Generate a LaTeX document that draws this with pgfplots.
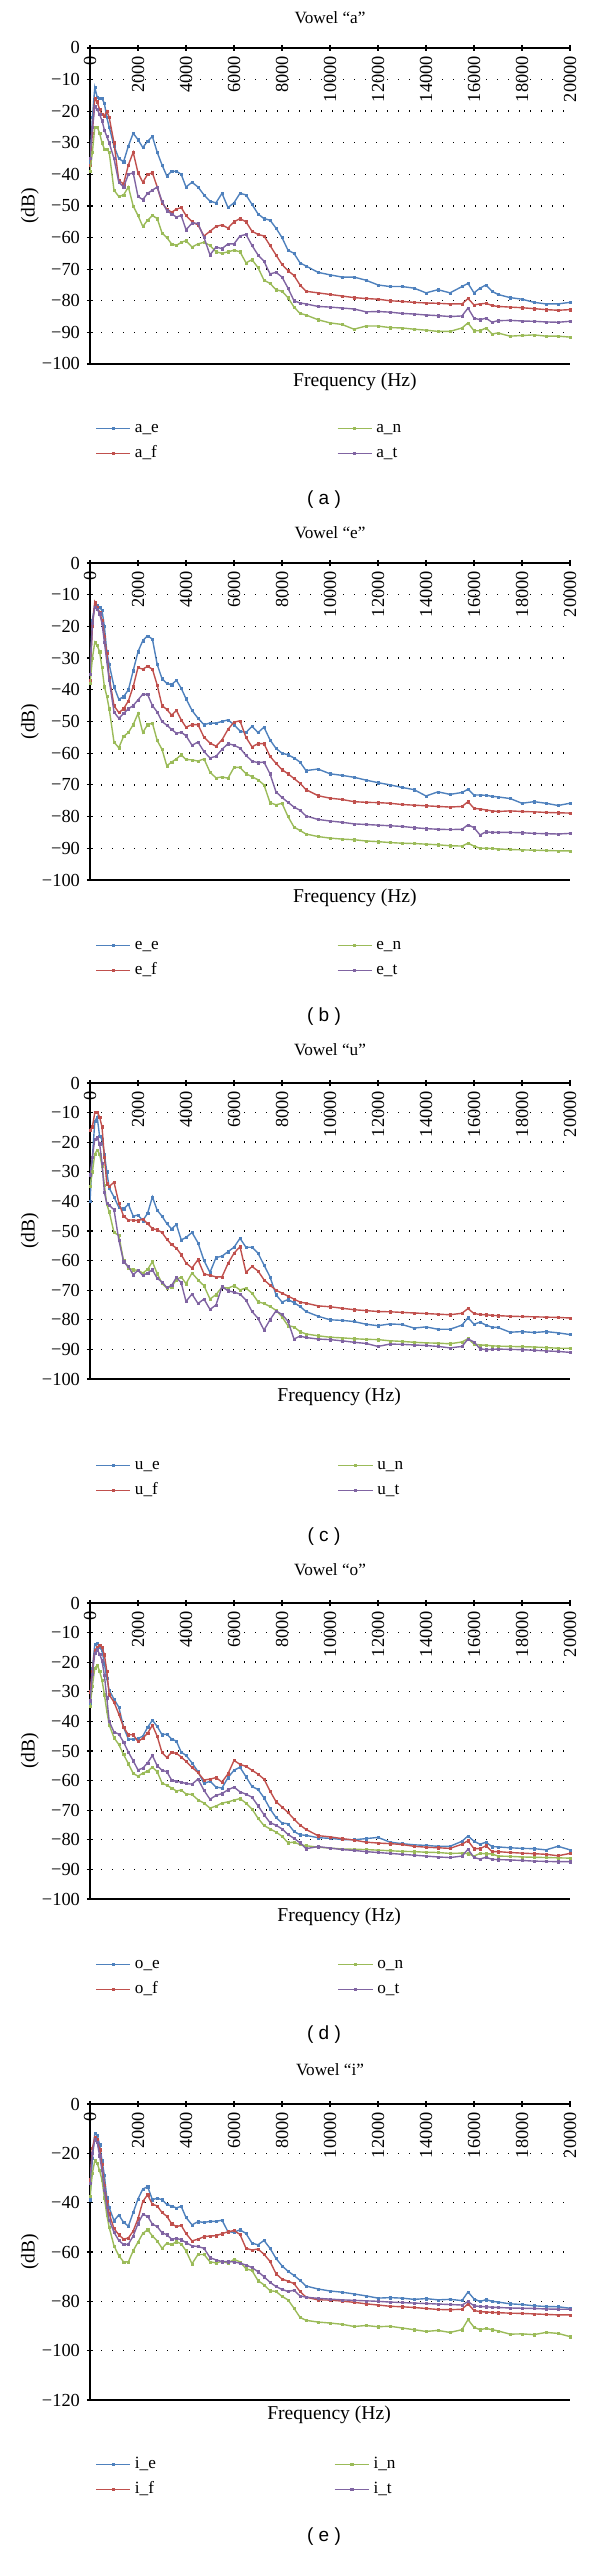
\documentclass[border=0pt]{standalone}
\usepackage{fontspec}
\setmainfont{Liberation Serif}
\newfontfamily\capfont{Liberation Sans}
\usepackage{pgfplots}
\usepackage{pgfplotstable}
\pgfplotsset{compat=1.18}
\definecolor{cE}{HTML}{4F81BD}
\definecolor{cF}{HTML}{C0504D}
\definecolor{cN}{HTML}{9BBB59}
\definecolor{cT}{HTML}{8064A2}

\pgfplotstableread{
hz E F N T
0 -36 -37 -39 -35
100 -22 -27 -33 -25
200 -12.5 -16 -25 -18.5
300 -15.5 -17 -25 -19.5
400 -16 -19.5 -27 -21
500 -16 -21 -30 -23
600 -17.5 -21.5 -32 -26
700 -22 -20 -32 -28
800 -25 -22 -33 -30
1000 -31 -30 -45 -35
1200 -35 -42 -47 -42.5
1400 -36 -43 -46.5 -44
1600 -31 -37 -44 -40
1800 -27 -33 -50 -39.5
2000 -29 -39.5 -53 -47
2200 -31.5 -42.5 -56.5 -48
2400 -29.5 -40 -54.5 -46
2600 -28 -39.5 -53 -45
2800 -33 -44 -54 -44
3000 -37 -49 -58.5 -48.5
3200 -40.5 -51 -60 -51.5
3400 -39 -52 -62 -52.5
3600 -39 -51 -62.5 -53.5
3800 -40 -50.5 -61.5 -53
4000 -44 -53 -61 -57.5
4250 -42.5 -55 -63 -55.5
4500 -44 -56 -62 -55.5
4750 -46.5 -59.5 -61.5 -60
5000 -48.5 -58 -62.5 -65.5
5250 -49 -56.5 -64.5 -63
5500 -46 -56 -65 -63.5
5750 -50.5 -57 -64.5 -62
6000 -49 -55 -64 -62
6250 -46 -54 -64.5 -59.5
6500 -46.5 -55 -68 -59
6750 -49.5 -58 -67 -62.5
7000 -52.5 -59 -69.5 -65.5
7250 -54 -59.5 -73.5 -67.5
7500 -54.5 -62.5 -74.5 -71.5
7750 -57 -65.5 -76.5 -71
8000 -60 -68.5 -77 -72.5
8250 -64 -70.5 -79 -76
8500 -65 -72 -82 -80
8750 -68 -75 -84 -80.7
9000 -69 -77 -84.5 -81
9500 -71 -77.5 -86 -81.8
10000 -71.8 -78 -87 -82
10500 -72.5 -78.5 -87.5 -82.3
11000 -72.5 -79 -89 -82.6
11500 -73.5 -79.3 -88 -83.5
12000 -75 -79.5 -88 -83.4
12500 -75.5 -80 -88.5 -83.6
13000 -75.5 -80.2 -88.6 -84
13500 -76 -80.5 -89 -84.2
14000 -77.5 -80.7 -89.3 -84.5
14500 -76.5 -80.8 -89.7 -84.7
15000 -77.5 -81 -89.7 -85
15500 -75.5 -81 -88.6 -84.8
15750 -74.5 -79.3 -87 -82.3
16000 -77.5 -81.3 -89.5 -85.5
16250 -76 -81 -89.5 -86
16500 -75 -80.8 -88.6 -85.5
16750 -77 -81.5 -90.5 -86.8
17000 -78 -81.8 -90.2 -86.3
17500 -79 -82 -91.2 -86.2
18000 -79.5 -82.2 -91 -86.4
18500 -80.5 -82.5 -90.8 -86.5
19000 -81 -82.8 -91.2 -86.7
19500 -81 -83 -91.2 -86.8
20000 -80.5 -82.8 -91.5 -86.5
}\tabA

\pgfplotstableread{
hz E F N T
0 -35 -37 -38 -35
100 -18 -20 -30 -19
200 -13 -12.3 -25 -14
300 -13.5 -14 -26 -14.5
400 -14 -15.5 -28 -16
500 -15 -18 -33 -19
600 -20 -23 -39 -25
700 -28 -28.5 -42 -31
800 -32 -36 -46 -37
1000 -39 -45 -56.5 -47
1200 -43 -47.2 -58.3 -49
1400 -42.2 -46 -54.7 -47.5
1600 -40 -43.5 -53.5 -46
1800 -34 -39 -51 -45
2000 -28 -33 -47.5 -43.2
2200 -24.5 -33.5 -53.5 -41.4
2400 -23 -32.6 -51 -41.5
2600 -24 -33.5 -50.5 -45
2800 -32 -38.5 -56 -47
3000 -36.5 -45 -58.8 -50
3200 -38 -46.2 -64 -51.2
3400 -38.4 -48 -62.8 -52.5
3600 -37 -46.5 -61.8 -53.7
3800 -39.5 -49.5 -60.5 -53.4
4000 -42.8 -51.8 -62 -54.5
4250 -46.5 -51 -62.1 -57.5
4500 -49 -51 -62.5 -56.5
4750 -51 -55 -61.8 -59.5
5000 -50.5 -56.8 -66 -61.5
5250 -50.5 -57.8 -67.8 -61
5500 -50 -55.8 -67.5 -58.8
5750 -49.5 -52.5 -67.9 -57
6000 -51 -50.2 -64.5 -57.5
6250 -53 -49.8 -64.5 -58.4
6500 -53.5 -55 -66.5 -60.7
6750 -51.5 -58 -67.4 -62.5
7000 -53.5 -57 -68.4 -63
7250 -51.8 -57 -70 -62.8
7500 -55.8 -61 -75.6 -66.5
7750 -58.5 -63.2 -76.3 -72.2
8000 -60 -65.2 -75.8 -74
8250 -60.5 -66.5 -80 -75.5
8500 -61.5 -68 -83.3 -77
8750 -62.8 -69.5 -84.4 -78
9000 -65.5 -71.5 -85.5 -79.8
9500 -65 -73.4 -86.3 -80.9
10000 -66.5 -74.2 -86.8 -81.4
10500 -67 -74.6 -87.1 -81.8
11000 -67.6 -75.3 -87.3 -82.3
11500 -68.5 -75.5 -87.7 -82.5
12000 -69.3 -75.6 -87.9 -82.7
12500 -70 -75.8 -88.2 -82.9
13000 -70.8 -76.2 -88.4 -83.1
13500 -71.5 -76.4 -88.5 -83.5
14000 -73.5 -76.6 -88.7 -83.8
14500 -72.2 -76.8 -88.9 -84
15000 -73 -77 -89.2 -84.1
15500 -72.4 -76.8 -89.3 -84
15750 -71.4 -75.3 -88.4 -82.6
16000 -73.2 -77.4 -89.3 -83.5
16250 -73.2 -77.6 -90 -85.8
16500 -73.3 -77.9 -90 -84.8
16750 -73.6 -78.2 -90.1 -85
17000 -73.8 -78.4 -90.2 -85
17500 -74.3 -78.2 -90.4 -85
18000 -75.8 -78.4 -90.5 -85.1
18500 -75.3 -78.5 -90.6 -85.3
19000 -75.8 -78.7 -90.7 -85.4
19500 -76.5 -78.8 -90.8 -85.5
20000 -75.8 -78.9 -90.8 -85.3
}\tabB

\pgfplotstableread{
hz E F N T
0 -40 -16 -35 -31
100 -25 -14.8 -30 -25
200 -13 -10 -24 -19
300 -11.5 -9.8 -22.7 -18.5
400 -18 -11.5 -24 -20.5
500 -19 -14.8 -28 -27
600 -24 -25 -34.5 -37
700 -30 -34 -41 -40.7
800 -35.5 -35 -43.5 -41.3
1000 -38.5 -33.5 -50.5 -42.8
1200 -42 -40.5 -51.5 -53
1400 -42.5 -45 -60 -60.4
1600 -41 -46.3 -62.5 -62
1800 -45 -46.3 -63.1 -64.8
2000 -44.6 -46.5 -63.3 -63.3
2200 -46.5 -46 -64.2 -65
2400 -44 -47.5 -63 -64.2
2600 -38.5 -49.2 -60.4 -63.1
2800 -43 -49.6 -64.4 -66
3000 -45 -50.5 -67.7 -67.2
3200 -47.5 -52.8 -69.3 -69.1
3400 -49.3 -54.6 -68.8 -68.4
3600 -47.8 -55.8 -66.5 -65.7
3800 -53 -58 -65.5 -67.5
4000 -52.2 -60.8 -67.8 -73.8
4250 -50.5 -62.5 -64.2 -71.3
4500 -54 -59.7 -66.5 -74.5
4750 -60 -64.5 -68.5 -73
5000 -64 -65 -73 -76.5
5250 -59 -65.5 -71.5 -75
5500 -58.5 -65.5 -69 -68.8
5750 -57 -61 -69.3 -70.2
6000 -55.5 -57.5 -68.5 -70.7
6250 -52.5 -55.3 -69.9 -71.3
6500 -55.5 -64 -69.3 -73.4
6750 -55.5 -62 -71 -77.2
7000 -57.5 -63.5 -73.9 -79.5
7250 -61.5 -66.5 -74.5 -83.5
7500 -65.5 -68.3 -75.5 -80
7750 -71.5 -70 -76.8 -77
8000 -74 -71 -79 -78.2
8250 -73.2 -72 -82 -80.5
8500 -74.2 -73 -82.4 -86.5
8750 -75.5 -74 -84 -85.5
9000 -77.2 -74.4 -84.8 -86
9500 -78.8 -75.3 -85.4 -86.5
10000 -80 -75.6 -85.9 -86.7
10500 -80.2 -76.1 -86.1 -87.1
11000 -80.6 -76.6 -86.4 -87.6
11500 -81.5 -76.9 -86.6 -88
12000 -82 -77.2 -86.7 -89
12500 -81.4 -77.3 -87.1 -88.2
13000 -81.6 -77.5 -87.3 -88.3
13500 -82.8 -77.7 -87.6 -88.5
14000 -82.4 -77.9 -87.8 -88.7
14500 -83.2 -78.1 -87.9 -89
15000 -83.2 -78.3 -88.1 -89.5
15500 -81.8 -77.8 -87.5 -89
15750 -79.3 -76.2 -86.4 -86.5
16000 -81.5 -77.9 -88.2 -87.5
16250 -80.8 -78.2 -88.5 -89.8
16500 -81.8 -78.3 -88.6 -90.1
16750 -82.5 -78.5 -88.8 -90
17000 -82.6 -78.6 -88.9 -89.9
17500 -84.2 -78.8 -89 -90
18000 -84 -78.9 -89.1 -90.1
18500 -84.3 -79 -89.2 -90.3
19000 -84 -79.1 -89.4 -90.5
19500 -84.4 -79.2 -89.6 -90.7
20000 -85 -79.4 -89.6 -91
}\tabC

\pgfplotstableread{
hz E F N T
0 -34 -30 -35 -33
100 -22 -23 -28 -24
200 -14 -16 -22 -17
300 -13.5 -15 -21 -15.8
400 -15 -14.2 -23 -17.2
500 -16 -15 -26 -19.5
600 -20.5 -17.5 -31 -24.5
700 -25.5 -23 -36.5 -32
800 -29.5 -31 -41.2 -40
1000 -32.5 -33.5 -45.5 -43.6
1200 -35.2 -37.5 -47.8 -44.3
1400 -42 -42 -51.2 -47
1600 -46 -44.5 -54.3 -50.4
1800 -46 -44.5 -57.6 -53.3
2000 -45.8 -46.8 -58.5 -56.4
2200 -45 -45.7 -57.5 -55.8
2400 -42 -44 -56.8 -54
2600 -39.6 -41.3 -55.5 -51.5
2800 -41.7 -45 -57 -55
3000 -44.5 -50.5 -60.8 -56.5
3200 -44.3 -52.2 -61.6 -57
3400 -45.9 -50.5 -62.5 -59.8
3600 -46.7 -50.8 -63.5 -60.3
3800 -50.4 -52 -63.2 -60.5
4000 -51.5 -53.5 -64.5 -61
4250 -54 -55.5 -64.7 -61.2
4500 -57 -57.3 -66.5 -59.5
4750 -61 -59.8 -67.6 -63.3
5000 -60.2 -59.5 -69.3 -66.3
5250 -62.2 -59 -68.6 -65
5500 -62.5 -60.5 -67.6 -64.4
5750 -59 -57.7 -67.2 -63.1
6000 -56.5 -53.2 -66.6 -62.2
6250 -55.5 -54.5 -66.1 -63.8
6500 -58.7 -55.2 -67.6 -64.6
6750 -62 -56.5 -69.6 -65.6
7000 -63 -57.8 -72.7 -68.5
7250 -65.8 -59.5 -75.2 -71.5
7500 -69.5 -63.5 -76.3 -74.2
7750 -72.5 -67.1 -77.4 -75.1
8000 -74.3 -68.9 -78.8 -76.3
8250 -74.6 -70.8 -81 -78.2
8500 -77.2 -73 -80.8 -79.5
8750 -78.3 -75 -81.6 -81
9000 -78.5 -76.5 -82 -83
9500 -79.3 -78.6 -82.5 -82.3
10000 -79.5 -79 -82.8 -82.8
10500 -79.9 -79.6 -83.1 -83.3
11000 -80 -80.1 -83.2 -83.6
11500 -79.6 -80.8 -83.3 -84
12000 -79.2 -81.1 -83.5 -84.3
12500 -80.8 -81.3 -83.7 -84.6
13000 -81.3 -81.6 -83.9 -84.9
13500 -81.7 -82.2 -84 -85.2
14000 -81.9 -82.5 -84.2 -85.5
14500 -82.2 -82.7 -84.3 -85.8
15000 -82.2 -82.9 -84.6 -86
15500 -80.5 -81.5 -84.5 -85.5
15750 -78.7 -80.3 -84.7 -83.2
16000 -80.5 -83 -85.5 -86
16250 -81.5 -83 -84.6 -86.5
16500 -80.8 -82 -84.7 -85.9
16750 -82.3 -84 -84.8 -86.6
17000 -82.4 -84 -85.5 -86.7
17500 -82.7 -84.3 -85.6 -86.8
18000 -82.9 -84.5 -85.8 -87
18500 -83 -84.7 -85.9 -87.2
19000 -83.4 -84.9 -86 -87.3
19500 -82.2 -85.4 -86.1 -87.4
20000 -83.4 -84.6 -86.2 -87.4
}\tabD

\pgfplotstableread{
hz E F N T
0 -38.8 -30.7 -37.5 -32
100 -22 -18 -28 -20
200 -12 -13.3 -23 -14.5
300 -12.5 -14.3 -24 -15.5
400 -16.5 -18.5 -27 -21
500 -23 -24.5 -30.7 -27
600 -29 -33 -38 -35
700 -38 -39.5 -45 -42
800 -42 -44.5 -50 -47
1000 -47.3 -50.5 -57.5 -52
1200 -45 -53 -61.5 -55.3
1400 -48 -54.8 -64 -57
1600 -49.5 -54.3 -64 -56.8
1800 -44 -51.5 -59.5 -53.5
2000 -38.5 -46.5 -56 -48.5
2200 -34.5 -39.5 -52.5 -44.8
2400 -33.5 -36.8 -51 -45.5
2600 -38.8 -40.7 -53.5 -48.7
2800 -38.2 -41.3 -55.5 -49.7
3000 -38.8 -44 -58.5 -52.2
3200 -40.7 -45.5 -56.5 -53
3400 -41.4 -48.5 -57 -54.8
3600 -42.1 -49.7 -55.8 -54.5
3800 -41.5 -49.2 -56.7 -55
4000 -46 -52.5 -59.5 -56.2
4250 -49 -55.5 -64.8 -57.5
4500 -47.7 -54.8 -61 -57.8
4750 -48 -53.8 -61 -58.5
5000 -47.6 -53.5 -64 -62.3
5250 -47.6 -53.4 -64.4 -63.2
5500 -47.1 -52.6 -63.8 -63.9
5750 -51.8 -51.8 -64.5 -63.9
6000 -52 -51.3 -63 -64
6250 -51 -52.9 -64 -64.5
6500 -52.5 -58.5 -66.8 -65.3
6750 -56.4 -59.2 -67.5 -66.3
7000 -57.1 -58.8 -71.6 -68
7250 -55.3 -60.9 -73.3 -70
7500 -58.5 -63.8 -75.7 -72.3
7750 -62.6 -68.8 -76 -74
8000 -65.6 -71 -78 -75.2
8250 -67.8 -71.8 -79.4 -76
8500 -69.5 -72.8 -82.8 -75.5
8750 -71.5 -76 -86.5 -77.8
9000 -73.8 -78.3 -87.7 -78.3
9500 -75 -79.4 -88.4 -78.8
10000 -75.8 -79.5 -88.8 -79.1
10500 -76.3 -79.9 -89.3 -79.4
11000 -77 -80.4 -90.2 -79.6
11500 -77.8 -81 -89.8 -79.8
12000 -78.7 -81.5 -90.3 -80
12500 -78.5 -82 -90.1 -80.3
13000 -78.7 -82.2 -90.8 -80.5
13500 -79.2 -82.5 -91.5 -80.7
14000 -78.9 -82.9 -92.2 -80.9
14500 -79.4 -83.3 -91.8 -81.1
15000 -79.2 -83.4 -92.6 -81.3
15500 -79.7 -83.2 -91.5 -81.5
15750 -76.2 -81 -87.4 -80.1
16000 -79 -83.7 -90.5 -81.8
16250 -80.1 -84.2 -91.5 -82.1
16500 -79.3 -84.3 -91 -82.2
16750 -80 -84.5 -91.5 -82.4
17000 -80.3 -84.6 -92 -82.5
17500 -81 -84.8 -93.3 -82.7
18000 -81.3 -84.9 -93.2 -82.8
18500 -81.8 -85.1 -93.5 -82.9
19000 -82.1 -85.3 -92.6 -83.1
19500 -82.2 -85.5 -93 -83.2
20000 -82.8 -85.5 -94.3 -83.2
}\tabE

\tikzset{capnode/.style={font=\capfont\fontsize{9.5}{10}\selectfont}}

\pgfplotsset{
  ser/.style={color=#1, line width=0.7pt, mark=square*, mark size=0.55pt,
    mark options={solid, line width=0.2pt}},
  vowel/.style={
    scale only axis, width=240pt,
    xmin=0, xmax=20000, enlargelimits=false, clip mode=individual,
    axis x line=box, axis y line=left,
    axis line style={-, line width=0.8pt, black},
    xtick={0,2000,...,20000},
    xticklabels={0,2000,4000,6000,8000,10000,12000,14000,16000,18000,20000},
    scaled x ticks=false,
    xtick pos=right, xticklabel pos=right,
    xticklabel style={yshift=-2pt, rotate=90, anchor=east, font=\fontsize{9.2}{9.2}\selectfont},
    yticklabel style={font=\fontsize{9.2}{9.2}\selectfont},
    tick style={black, line width=0.6pt}, major tick length=3pt, tick align=center,
    ytick pos=left,
    ymajorgrids, major grid style={black, line width=0.7pt, dash pattern=on 0.7pt off 4.8pt},
    title style={font=\fontsize{8.6}{9}\selectfont, at={(axis description cs:0.5,1)}, anchor=center, yshift=9pt},
    xlabel={Frequency (Hz)},
    ylabel={(dB)},
    ylabel style={font=\fontsize{9.8}{10}\selectfont, at={(axis description cs:-0.125,0.5)}, anchor=center},
    legend columns=2, transpose legend, legend cell align=left,
    legend style={draw=none, fill=none, inner sep=0pt, anchor=north west,
      font=\fontsize{8.6}{10}\selectfont,
      nodes={text height=6pt, text depth=1.5pt, inner sep=2pt},
      /tikz/every even column/.append style={column sep=87pt}, row sep=1pt},
  },
  yA/.style={ymin=-100, ymax=0, ytick={-100,-90,...,0},
    yticklabels={−100,−90,−80,−70,−60,−50,−40,−30,−20,−10,0}},
  yE/.style={ymin=-120, ymax=0, ytick={-120,-100,...,0},
    yticklabels={−120,−100,−80,−60,−40,−20,0}},
  xl/.style={xlabel style={font=\fontsize{9.8}{10}\selectfont, at={(axis description cs:#1,0)}, anchor=center, yshift=-9pt}},
}

\begin{document}
\begin{tikzpicture}
\path[use as bounding box] (0pt,0pt) rectangle (300pt,1276pt);

% Panel a
\begin{axis}[vowel, yA, height=158pt, at={(45pt,1094pt)}, anchor=south west,
  title={Vowel “a”}, xl=0.552,
  legend style={at={(axis description cs:0,0)}, xshift=2.5pt, yshift=-26.25pt}]
\addplot[ser=cE] table[x=hz,y=E]{\tabA}; \addlegendentry{a\_e}
\addplot[ser=cF] table[x=hz,y=F]{\tabA}; \addlegendentry{a\_f}
\addplot[ser=cN] table[x=hz,y=N]{\tabA}; \addlegendentry{a\_n}
\addplot[ser=cT] table[x=hz,y=T]{\tabA}; \addlegendentry{a\_t}
\node[capnode] at (axis description cs:0.4875,0) [yshift=-68pt] {( a )};
\end{axis}

% Panel b
\begin{axis}[vowel, yA, height=158.5pt, at={(45pt,836pt)}, anchor=south west,
  title={Vowel “e”}, xl=0.552,
  legend style={at={(axis description cs:0,0)}, xshift=2.5pt, yshift=-26.75pt}]
\addplot[ser=cE] table[x=hz,y=E]{\tabB}; \addlegendentry{e\_e}
\addplot[ser=cF] table[x=hz,y=F]{\tabB}; \addlegendentry{e\_f}
\addplot[ser=cN] table[x=hz,y=N]{\tabB}; \addlegendentry{e\_n}
\addplot[ser=cT] table[x=hz,y=T]{\tabB}; \addlegendentry{e\_t}
\node[capnode] at (axis description cs:0.4875,0) [yshift=-68.5pt] {( b )};
\end{axis}

% Panel c
\begin{axis}[vowel, yA, height=148pt, at={(45pt,586.5pt)}, anchor=south west,
  title={Vowel “u”}, title style={yshift=1.5pt}, xl=0.519,
  legend style={at={(axis description cs:0,0)}, xshift=2.5pt, yshift=-37.25pt}]
\addplot[ser=cE] table[x=hz,y=E]{\tabC}; \addlegendentry{u\_e}
\addplot[ser=cF] table[x=hz,y=F]{\tabC}; \addlegendentry{u\_f}
\addplot[ser=cN] table[x=hz,y=N]{\tabC}; \addlegendentry{u\_n}
\addplot[ser=cT] table[x=hz,y=T]{\tabC}; \addlegendentry{u\_t}
\node[capnode] at (axis description cs:0.4875,0) [yshift=-79pt] {( c )};
\end{axis}

% Panel d
\begin{axis}[vowel, yA, height=148pt, at={(45pt,326.5pt)}, anchor=south west,
  title={Vowel “o”}, title style={yshift=1.5pt}, xl=0.519,
  legend style={at={(axis description cs:0,0)}, xshift=2.5pt, yshift=-26.75pt}]
\addplot[ser=cE] table[x=hz,y=E]{\tabD}; \addlegendentry{o\_e}
\addplot[ser=cF] table[x=hz,y=F]{\tabD}; \addlegendentry{o\_f}
\addplot[ser=cN] table[x=hz,y=N]{\tabD}; \addlegendentry{o\_n}
\addplot[ser=cT] table[x=hz,y=T]{\tabD}; \addlegendentry{o\_t}
\node[capnode] at (axis description cs:0.4875,0) [yshift=-68pt] {( d )};
\end{axis}

% Panel e
\begin{axis}[vowel, yE, height=148pt, at={(45pt,76pt)}, anchor=south west,
  title={Vowel “i”}, title style={yshift=2pt}, xl=0.498,
  xlabel style={yshift=1.5pt},
  legend style={at={(axis description cs:0,0)}, xshift=2.5pt, yshift=-26.25pt}]
\addplot[ser=cE] table[x=hz,y=E]{\tabE}; \addlegendentry{i\_e}
\addplot[ser=cF] table[x=hz,y=F]{\tabE}; \addlegendentry{i\_f}
\addplot[ser=cN] table[x=hz,y=N]{\tabE}; \addlegendentry{i\_n}
\addplot[ser=cT] table[x=hz,y=T]{\tabE}; \addlegendentry{i\_t}
\node[capnode] at (axis description cs:0.4875,0) [yshift=-68.5pt] {( e )};
\end{axis}
\end{tikzpicture}
\end{document}
